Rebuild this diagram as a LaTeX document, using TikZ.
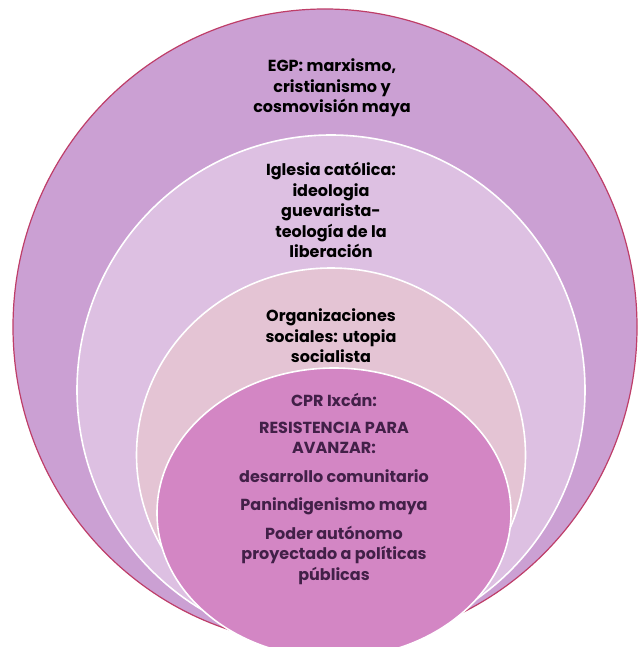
\documentclass[tikz,border=0pt]{standalone}
\usepackage{fontspec}
\setmainfont{Poppins}
\usetikzlibrary{shapes.geometric}

\definecolor{egpfill}{RGB}{203,160,211}
\definecolor{egpline}{RGB}{190,62,105}
\definecolor{iglesiafill}{RGB}{221,192,226}
\definecolor{orgfill}{RGB}{228,196,212}
\definecolor{cprfill}{RGB}{211,134,196}
\definecolor{cprtext}{RGB}{66,32,72}

\begin{document}
\begin{tikzpicture}[x=1pt,y=-1pt]
				\tikzset{ring/.style={shape=ellipse, draw=white, line width=1.6pt, inner sep=0pt},
					ringtext/.style={align=center, font=\fontsize{16}{20.5}\selectfont\bfseries}}
				\useasboundingbox (0,0) rectangle (638,647);
				\clip (0,0) rectangle (638,647);
				\node[ring, draw=egpline, line width=1.2pt, fill=egpfill, minimum width=624pt, minimum height=636pt] (egp) at (325,327) {};
				\node[ring, fill=iglesiafill, minimum width=508pt, minimum height=510pt] (iglesia) at (331,390) {};
				\node[ring, fill=orgfill, minimum width=389pt, minimum height=374pt] (org) at (331,455) {};
				\node[ring, fill=cprfill, minimum width=354pt, minimum height=290pt] (cpr) at (334,513) {};
				\node[ringtext] (egptext) at (332,88) {EGP: marxismo,\\cristianismo y\\cosmovisión maya};
				\node[ringtext] (iglesiatext) at (331,210) {Iglesia católica:\\ideologia\\guevarista-\\teología de la\\liberación};
				\node[ringtext] (orgtext) at (331,336) {Organizaciones\\sociales: utopia\\socialista};
				\node[ringtext, text=cprtext] (cprtext) at (334,489) {CPR Ixcán:\\[6pt]RESISTENCIA PARA\\AVANZAR:\\[8pt]desarrollo comunitario\\[8pt]Panindigenismo maya\\[8pt]Poder autónomo\\proyectado a políticas\\públicas};
			\end{tikzpicture}
\end{document}
